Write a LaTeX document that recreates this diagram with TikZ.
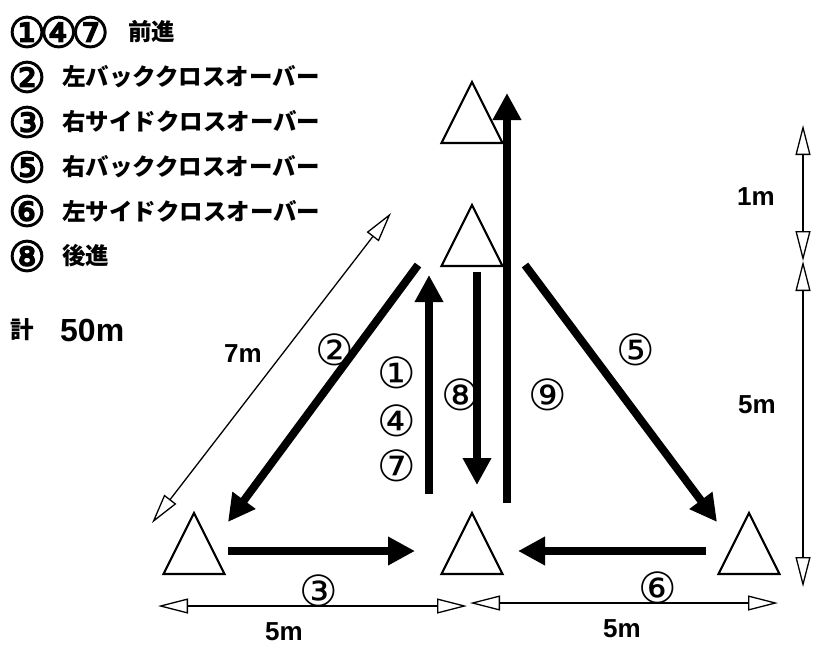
\documentclass[tikz,border=0pt]{standalone}
\usepackage{fontspec}
\usetikzlibrary{arrows.meta}
\newfontfamily\jpfont{Noto Sans CJK JP}
\newfontfamily\lsans{Liberation Sans}
\newfontfamily\circfont{DejaVu Sans}
\newfontfamily\circbold[FakeBold=3]{DejaVu Sans}
\tikzset{
  cone/.pic={\draw[line width=2.2pt, line join=miter] (-30.5,0) -- (0,-61) -- (30.5,0) -- cycle;},
  move/.style={line width=8pt, -{Triangle[length=27pt,width=27pt]}},
  dimline/.style={line width=1.3pt,
    {Triangle[length=30pt,width=15pt,fill=white]}-{Triangle[length=30pt,width=15pt,fill=white]}},
  num/.style={font=\circfont\fontsize{43}{43}\selectfont, inner sep=0pt},
  legnum/.style={font=\circbold\fontsize{42}{42}\selectfont, inner sep=0pt, anchor=west},
  leg/.style={font=\jpfont\bfseries\fontsize{23.5}{23.5}\selectfont, inner sep=0pt, anchor=west},
  dimlbl/.style={font=\lsans\bfseries\fontsize{26}{26}\selectfont, inner sep=0pt}
}
\begin{document}
\begin{tikzpicture}[x=1pt,y=-1pt]
\useasboundingbox (0,0) rectangle (816,646);
% legend
\node[legnum] (g1n) at (8,32) {①\kern-6pt④\kern-6pt⑦};
\node[leg] (g1t) at (128,32) {前進};
\node[legnum] (g2n) at (8,77) {②};
\node[leg] (g2t) at (62,77) {左バッククロスオーバー};
\node[legnum] (g3n) at (8,122) {③};
\node[leg] (g3t) at (62,122) {右サイドクロスオーバー};
\node[legnum] (g5n) at (8,167) {⑤};
\node[leg] (g5t) at (62,167) {右バッククロスオーバー};
\node[legnum] (g6n) at (8,211) {⑥};
\node[leg] (g6t) at (62,211) {左サイドクロスオーバー};
\node[legnum] (g8n) at (8,256) {⑧};
\node[leg] (g8t) at (62,256) {後進};
\node[leg] (gk) at (10,330) {計};
\node[font=\lsans\bfseries\fontsize{32}{32}\selectfont, inner sep=0pt, anchor=west] (gtot) at (60,330) {50m};
% cones
\pic (cL) at (194,574) {cone};
\pic (cM) at (472,574) {cone};
\pic (cR) at (749,574) {cone};
\pic (cT2) at (472,266) {cone};
\pic (cT1) at (472,143) {cone};
% movement arrows
\coordinate (a9s) at (507,503); \coordinate (a9e) at (507,93);
\coordinate (a1s) at (429,494); \coordinate (a1e) at (429,275);
\coordinate (a8s) at (477,272); \coordinate (a8e) at (477,485);
\coordinate (a2s) at (418,265); \coordinate (a2e) at (228,522);
\coordinate (a5s) at (525,265); \coordinate (a5e) at (717,522);
\coordinate (a3s) at (228,551); \coordinate (a3e) at (415,551);
\coordinate (a6s) at (706,551); \coordinate (a6e) at (518,551);
\draw[move] (a9s) -- (a9e);
\draw[move] (a1s) -- (a1e);
\draw[move] (a8s) -- (a8e);
\draw[move] (a2s) -- (a2e);
\draw[move] (a5s) -- (a5e);
\draw[move] (a3s) -- (a3e);
\draw[move] (a6s) -- (a6e);
% dimension lines
\coordinate (d7a) at (152,523); \coordinate (d7b) at (391,213);
\coordinate (dLa) at (158,606); \coordinate (dLb) at (467,606);
\coordinate (dRa) at (470,603); \coordinate (dRb) at (778,603);
\coordinate (dV1) at (803,125); \coordinate (dV2) at (803,261); \coordinate (dV3) at (803,587);
\draw[dimline] (d7a) -- (d7b);
\draw[dimline] (dLa) -- (dLb);
\draw[dimline] (dRa) -- (dRb);
\draw[dimline] (dV1) -- (dV2);
\draw[dimline] (dV2) -- (dV3);
% dimension labels
\node[dimlbl] (m7) at (243,354) {7m};
\node[dimlbl] (m5L) at (284,632) {5m};
\node[dimlbl] (m5R) at (622,629) {5m};
\node[dimlbl] (m1) at (756,197) {1m};
\node[dimlbl] (m5V) at (757,405) {5m};
% number labels
\node[num] (n2) at (335,350) {②};
\node[num] (n1) at (397,373) {①};
\node[num] (n4) at (397,421) {④};
\node[num] (n7) at (397,466) {⑦};
\node[num] (n8) at (461,395) {⑧};
\node[num] (n9) at (548,395) {⑨};
\node[num] (n5) at (636,350) {⑤};
\node[num] (n3) at (319,591) {③};
\node[num] (n6) at (658,588) {⑥};
\end{tikzpicture}
\end{document}
